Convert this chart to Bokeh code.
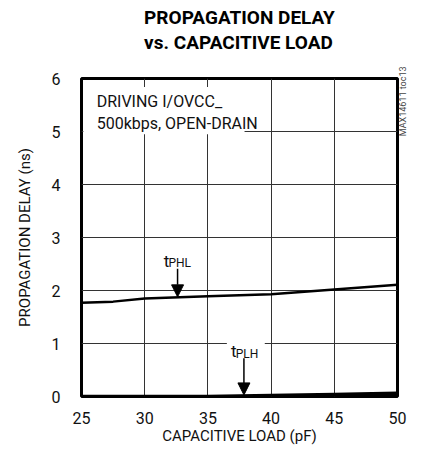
import math
from bokeh.plotting import figure
from bokeh.models import Label, Arrow, NormalHead, FixedTicker, ColumnDataSource, Title, LinearAxis
from bokeh.embed import file_html
from bokeh.resources import INLINE

# ---- data ----
load_pf = [25, 27.5, 30, 35, 40, 45, 50]
t_phl = [1.77, 1.79, 1.85, 1.89, 1.93, 2.02, 2.11]
t_plh = [0.0, 0.0, 0.0, 0.0, 0.02, 0.04, 0.06]
x_ticks = [25, 30, 35, 40, 45, 50]
y_ticks = [0, 1, 2, 3, 4, 5, 6]

FONT = "Roboto"

p = figure(width=416, height=447, x_range=(25, 50), y_range=(0, 6),
           output_backend="svg", toolbar_location=None,
           min_border_left=81, min_border_right=11,
           min_border_top=78, min_border_bottom=51)
p.background_fill_color = "white"
p.border_fill_color = "white"
p.outline_line_color = "black"
p.outline_line_width = 3

p.add_layout(Title(text="PROPAGATION DELAY\nvs. CAPACITIVE LOAD\n\u00a0", align="center",
                   text_font=FONT, text_font_size="19px", text_font_style="bold",
                   text_line_height=1.08, text_color="black", standoff=0), "above")

for ax, ticks in ((p.xaxis, x_ticks), (p.yaxis, y_ticks)):
    ax.ticker = FixedTicker(ticks=ticks)
    ax.axis_line_color = None
    ax.major_tick_line_color = None
    ax.minor_tick_line_color = None
    ax.major_label_text_font = FONT
    ax.major_label_text_font_size = "16px"
    ax.major_label_text_color = "#111"
    ax.axis_label_text_font = FONT
    ax.axis_label_text_font_size = "15px"
    ax.axis_label_text_font_style = "normal"
    ax.axis_label_text_color = "#111"
p.xaxis.major_label_standoff = 9
p.xaxis.axis_label_standoff = 0
p.yaxis.major_label_standoff = 15
p.yaxis.axis_label_standoff = 15
p.xaxis.axis_label = "CAPACITIVE LOAD (pF)"
p.yaxis.axis_label = "PROPAGATION DELAY (ns)"

# figure id, placed as a single rotated tick label on a right axis
id_pos = 4.91
rax = LinearAxis(axis_line_color=None, major_tick_line_color=None,
                 minor_tick_line_color=None, major_label_standoff=0,
                 major_label_text_font=FONT, major_label_text_font_size="9px",
                 major_label_text_color="#444",
                 major_label_orientation=math.pi / 2)
rax.ticker = FixedTicker(ticks=[id_pos])
rax.major_label_overrides = {id_pos: "MAX14611 toc13"}
p.add_layout(rax, "right")

p.xgrid.ticker = FixedTicker(ticks=x_ticks)
p.ygrid.ticker = FixedTicker(ticks=y_ticks)
for g in (p.xgrid, p.ygrid):
    g.grid_line_color = "#333"
    g.grid_line_width = 1

# white box behind the condition text
p.quad(left=[25.15], right=[37.9], bottom=[4.95], top=[5.84],
       fill_color="white", line_color=None)
# white box behind tPLH label
p.quad(left=[36.5], right=[39.5], bottom=[0.82], top=[1.12],
       fill_color="white", line_color=None)

src = ColumnDataSource(dict(x=load_pf, phl=t_phl, plh=t_plh))
p.line("x", "phl", source=src, line_color="black", line_width=2.5)
p.line("x", "plh", source=src, line_color="black", line_width=3.5)

def lab(x, y, text, size, **kw):
    opts = dict(x=x, y=y, text=text, text_font=FONT, text_font_size=size,
                text_color="#111")
    opts.update(kw)
    p.add_layout(Label(**opts))

# condition text
lab(26.2, 5.56, "DRIVING I/OVCC_", "16px", text_baseline="middle")
lab(26.2, 5.15, "500kbps, OPEN-DRAIN", "16px", text_baseline="middle")

# tPHL label
lab(31.5, 2.56, "t", "17px", text_baseline="alphabetic")
lab(31.88, 2.52, "PHL", "12px", text_baseline="alphabetic")
# tPLH label
lab(36.82, 0.85, "t", "17px", text_baseline="alphabetic")
lab(37.2, 0.81, "PLH", "12px", text_baseline="alphabetic")

# arrows
p.add_layout(Arrow(x_start=32.6, y_start=2.41, x_end=32.6, y_end=1.88,
                   line_color="black", line_width=1.5,
                   end=NormalHead(size=12, fill_color="black", line_color="black")))
p.add_layout(Arrow(x_start=37.85, y_start=0.72, x_end=37.85, y_end=0.03,
                   line_color="black", line_width=1.5,
                   end=NormalHead(size=12, fill_color="black", line_color="black")))

open("out.html", "w").write(file_html(p, INLINE))
